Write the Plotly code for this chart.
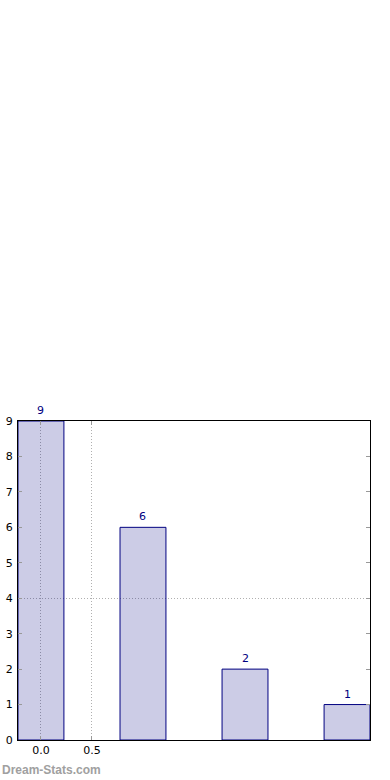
import plotly.graph_objects as go

categories = [0, 1, 2, 3]
values = [9, 6, 2, 1]
labels = ["9", "6", "2", "1"]
x_ticks = [0.0, 0.5]
x_tick_labels = ["0.0", "0.5"]
y_ticks = [0, 1, 2, 3, 4, 5, 6, 7, 8, 9]
y_grid = [4]

fig = go.Figure()
fig.add_trace(go.Bar(
    x=categories, y=values, width=0.45,
    marker=dict(color="rgba(0,0,128,0.2)", line=dict(color="#000080", width=1)),
    showlegend=False, hoverinfo="skip",
))
# invisible trace on y2 so the secondary axis (grid at 4) renders
fig.add_trace(go.Scatter(x=[categories[0]], y=[values[0]], yaxis="y2",
                         mode="markers", marker=dict(opacity=0),
                         showlegend=False, hoverinfo="skip"))

annotations = [dict(x=c, y=v, text=t, xref="x", yref="y", showarrow=False,
                    xanchor="center", yanchor="bottom", yshift=2,
                    font=dict(family="DejaVu Sans", size=11, color="#000080"))
               for c, v, t in zip(categories, values, labels)]
annotations.append(dict(text="<b>Dream-Stats.com</b>", xref="paper", yref="paper",
                        x=0, y=0, xanchor="left", yanchor="middle",
                        xshift=-18, yshift=-30, showarrow=False,
                        font=dict(family="Liberation Sans", size=12, color="#a0a0a0")))

axis_font = dict(family="DejaVu Sans", size=11, color="black")
grid_dash = "1px,2px"
fig.update_layout(
    width=390, height=780,
    margin=dict(l=18, r=20, t=421, b=40, autoexpand=False),
    paper_bgcolor="white", plot_bgcolor="white",
    xaxis=dict(range=[-0.225, 3.225], tickvals=x_ticks, ticktext=x_tick_labels,
               showgrid=True, gridcolor="#b0b0b0", griddash=grid_dash, gridwidth=1,
               ticks="inside", ticklen=4, tickcolor="#999999",
               showline=True, linecolor="black", linewidth=1, mirror="ticks",
               zeroline=False, tickfont=axis_font, automargin=False),
    yaxis=dict(range=[0, 9], tickvals=y_ticks, showgrid=False,
               ticks="inside", ticklen=4, tickcolor="#999999",
               showline=True, linecolor="black", linewidth=1, mirror="ticks",
               zeroline=False, tickfont=axis_font, automargin=False, ticklabelstandoff=2),
    yaxis2=dict(range=[0, 9], overlaying="y", tickvals=y_grid, showticklabels=False,
                showgrid=True, gridcolor="#b0b0b0", griddash=grid_dash, gridwidth=1,
                ticks="", zeroline=False, showline=False, automargin=False),
    annotations=annotations,
)

fig.write_html("out.html", config={"displayModeBar": False},
               post_script="document.body.style.margin='0';document.body.style.overflow='hidden';")
